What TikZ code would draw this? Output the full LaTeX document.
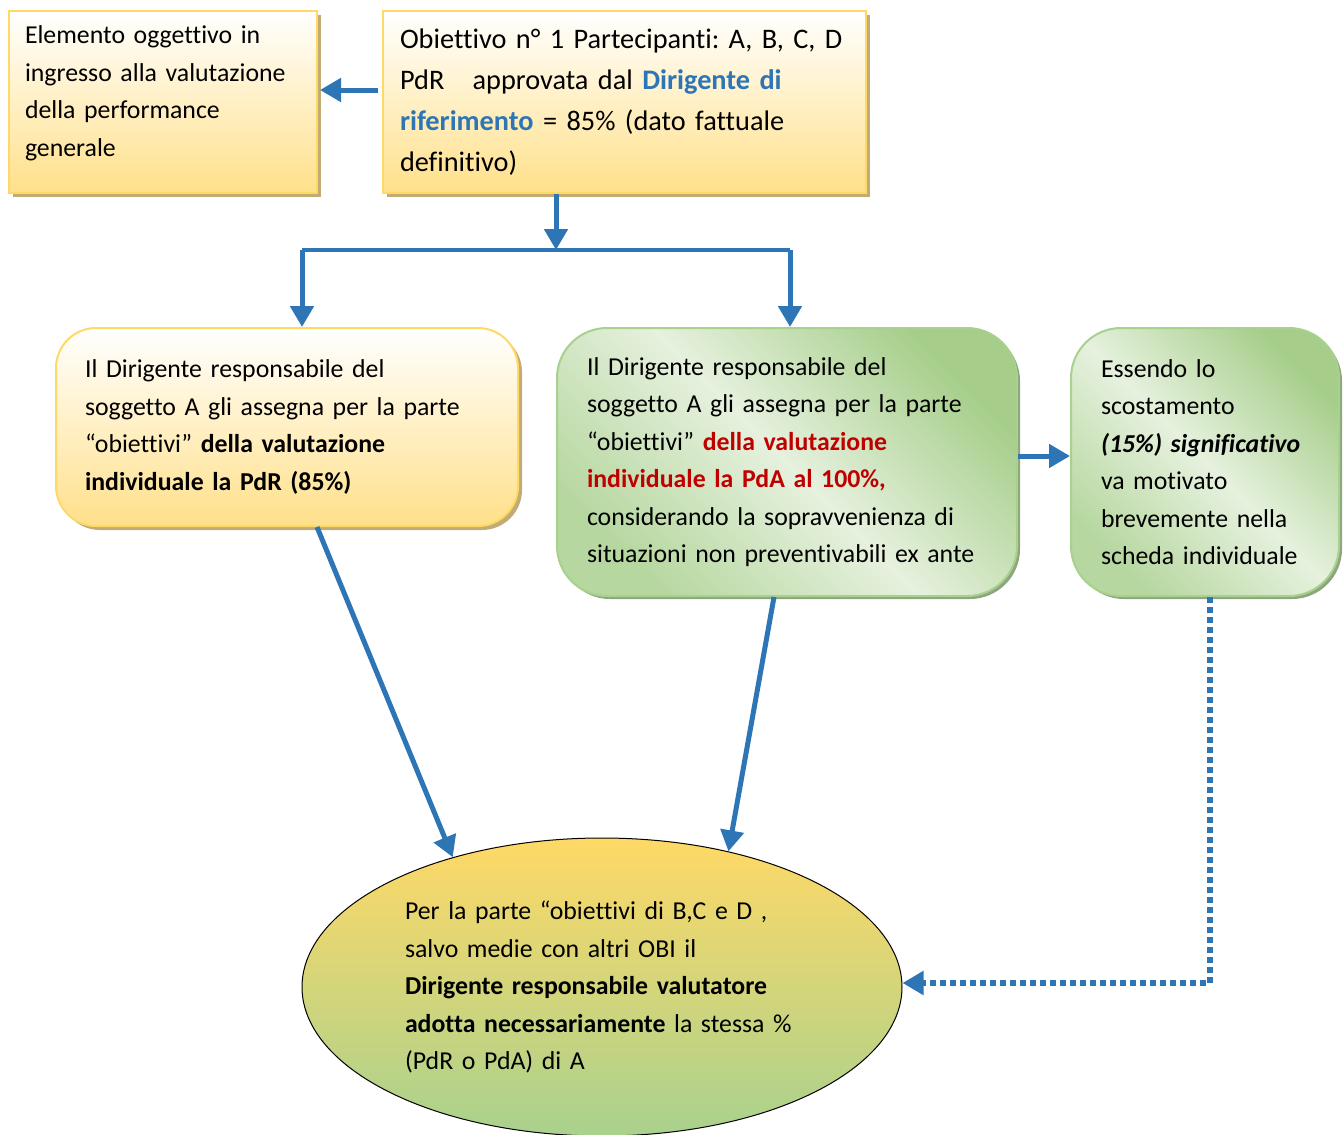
\documentclass[tikz,border=0pt]{standalone}
\usepackage{fontspec}
\setmainfont{Carlito}[Ligatures=CommonOff]
\usetikzlibrary{arrows.meta,positioning,calc,shadows,shapes.geometric}
\definecolor{arrowblue}{HTML}{2E75B6}
\definecolor{goldline}{HTML}{FFD966}
\definecolor{goldfill}{HTML}{FFE08A}
\definecolor{goldshadow}{HTML}{C2AC76}
\definecolor{greenline}{HTML}{A9D18E}
\definecolor{greenlight}{HTML}{E6F1DE}
\definecolor{greendark}{HTML}{A6CE8A}
\definecolor{greenshadow}{HTML}{8EA67F}
\definecolor{textred}{HTML}{C00000}
\frenchspacing
\begin{document}
\begin{tikzpicture}[x=1pt,y=-1pt,
      font=\fontsize{25.8}{37.5}\selectfont,
      goldbox/.style = {rectangle,draw=goldline,line width=2pt,top color=white,bottom color=goldfill,
        drop shadow={shadow xshift=4pt,shadow yshift=-4pt,fill=goldshadow,opacity=1},
        anchor=north west,inner sep=0pt,align=left},
      greenbox/.style = {rectangle,rounded corners=50pt,draw=greenline,line width=2pt,
        top color=greendark,bottom color=greendark!75!greenlight,middle color=greenlight,shading angle=-45,
        drop shadow={shadow xshift=3pt,shadow yshift=-3pt,fill=greenshadow,opacity=1},
        anchor=north west,inner sep=0pt,align=left},
      goal/.style = {ellipse,draw=black,line width=1pt,top color=goldline,bottom color=greenline,
        inner sep=0pt,align=left},
      arrowline/.style = {draw=arrowblue,line width=5pt,-{Triangle[length=21pt,width=23pt]}},
      branchline/.style = {draw=arrowblue,line width=4pt},
      dotarrow/.style = {draw=arrowblue,line width=6pt,dash pattern=on 6pt off 4pt,-{Triangle[length=21pt,width=23pt]}}
    ]
      \useasboundingbox (0,0) rectangle (1344,1135);
      \node (b1)[goldbox,minimum width=308pt,minimum height=182pt,text width=276pt] at (8,10)
        {Elemento oggettivo in\\ingresso alla valutazione\\della performance\\generale\\[-16pt]\mbox{}};
      \node (b2)[goldbox,minimum width=483pt,minimum height=182pt,text width=449pt,
        font=\fontsize{28.3}{41}\selectfont] at (382,10)
        {Obiettivo n° 1 Partecipanti: A, B, C, D\\PdR\ \ \ approvata dal \textbf{\textcolor{arrowblue}{Dirigente di}}\\
         \textbf{\textcolor{arrowblue}{riferimento}} = 85\% (dato fattuale\\definitivo)};
      \node (b3)[goldbox,rounded corners=40pt,minimum width=462pt,minimum height=198pt,text width=404pt] at (55,327)
        {Il Dirigente responsabile del\\soggetto A gli assegna per la parte\\
         “obiettivi” \textbf{della valutazione}\\\textbf{individuale la PdR (85\%)}};
      \node (b4)[greenbox,minimum width=460pt,minimum height=268pt,text width=400pt] at (556,327)
        {Il Dirigente responsabile del\\soggetto A gli assegna per la parte\\
         “obiettivi” \textbf{\textcolor{textred}{della valutazione}}\\
         \textbf{\textcolor{textred}{individuale la PdA al 100\%,}}\\
         considerando la sopravvenienza di\\situazioni non preventivabili ex ante};
      \node (b5)[greenbox,minimum width=268pt,minimum height=268pt,text width=208pt] at (1070,327)
        {Essendo lo\\scostamento\\\textbf{\textit{(15\%) significativo}}\\va motivato\\brevemente nella\\scheda individuale};
      \node (ell)[goal,minimum width=600pt,minimum height=298pt,text width=394pt] at (602,987)
        {Per la parte “obiettivi di B,C e D ,\\salvo medie con altri OBI il\\
         \textbf{Dirigente responsabile valutatore}\\\textbf{adotta necessariamente} la stessa \%\\
         (PdR o PdA) di A};

      \coordinate (split) at (556,250);
      \coordinate (brl) at (302,250);
      \coordinate (brr) at (790,250);

      \draw[arrowline,shorten <=4pt,shorten >=2pt] ([yshift=12pt]b2.west) -- ([yshift=12pt]b1.east);
      \draw[arrowline] (split |- b2.south) -- (split);
      \draw[branchline] (brl) -- (brr);
      \draw[arrowline] (brl) -- (brl |- b3.north);
      \draw[arrowline] (brr) -- (brr |- b4.north);
      \draw[arrowline] ([xshift=30pt]b3.south) -- (ell.139);
      \draw[arrowline] ([xshift=-13pt]b4.south) -- (ell.47);
      \draw[arrowline] ([yshift=6pt]b4.east) -- ([yshift=6pt]b5.west);
      \draw[dotarrow] ([xshift=5pt]b5.south) |- ([yshift=4pt]ell.east);
    \end{tikzpicture}
\end{document}
